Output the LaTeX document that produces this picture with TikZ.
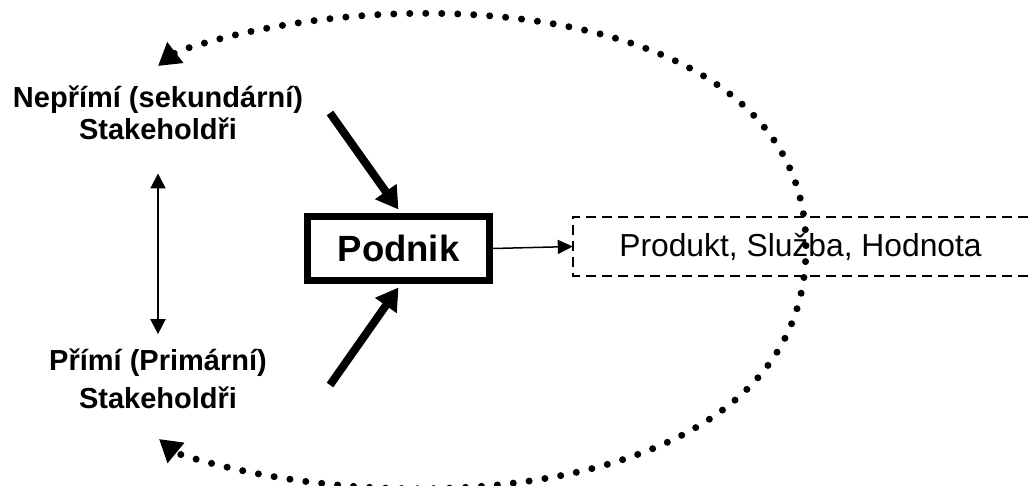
\documentclass[tikz,border=0pt]{standalone}
\usepackage{fontspec}
\setmainfont{Liberation Sans}
\usetikzlibrary{arrows.meta}

\tikzset{
	stake/.style={font=\bfseries\fontsize{29}{#1}\selectfont, align=center, inner sep=0pt},
	firm/.style={draw, line width=7pt, minimum width=182pt, minimum height=64pt, inner sep=0pt, font=\bfseries\fontsize{36.5}{40}\selectfont},
	output/.style={minimum width=455pt, minimum height=59pt, inner sep=0pt, font=\fontsize{31.8}{36}\selectfont},
	influence/.style={line width=8pt, -{Triangle[length=22pt, width=25pt]}},
	relation/.style={line width=2pt, {Triangle[length=15pt, width=15pt]}-{Triangle[length=15pt, width=15pt]}},
	flow/.style={line width=1.5pt, -{Triangle[length=15pt, width=14pt]}},
	feedback/.style={line width=7pt, line cap=round, dash pattern=on 0pt off 16pt,
		{Triangle[length=22pt, width=25pt]}-{Triangle[length=22pt, width=25pt]}}
}

\begin{document}
\begin{tikzpicture}[x=1pt, y=-1pt]
	\useasboundingbox (0,0) rectangle (1028,486);

	\node[stake=32, anchor=base] (sek) at (158,140) {Nepřímí (sekundární)\\Stakeholdři};
	\node[stake=38, anchor=base] (prim) at (158,408) {Přímí (Primární)\\Stakeholdři};
	\node[firm] (podnik) at (398.5,248.5) {Podnik};
	\node[output] (prod) at (800.5,246.5) {Produkt, Služba, Hodnota};
	\draw[line width=2pt, dash pattern=on 10pt off 6pt] (prod.north east) -| (prod.south west) -- (prod.south east);

	\coordinate (in1) at (330,113);
	\coordinate (in2) at (330,385);
	\draw[influence] (in1) -- ([yshift=3.5pt]podnik.north);
	\draw[influence] (in2) -- ([yshift=-3.5pt]podnik.south);

	\draw[relation] ([yshift=-33pt]sek.south) -- ([yshift=14pt]prim.north);
	\draw[flow] (podnik.east) -- (prod.west);

	\coordinate (tipA) at (158,66);
	\coordinate (baseA) at (176,52);
	\coordinate (tipB) at (159,439);
	\coordinate (baseB) at (176,453);
	\draw[feedback] (tipA) -- (baseA) .. controls (400,-25) and (806,0) .. (806,247)
		.. controls (806,501) and (400,526) .. (baseB) -- (tipB);
\end{tikzpicture}
\end{document}
